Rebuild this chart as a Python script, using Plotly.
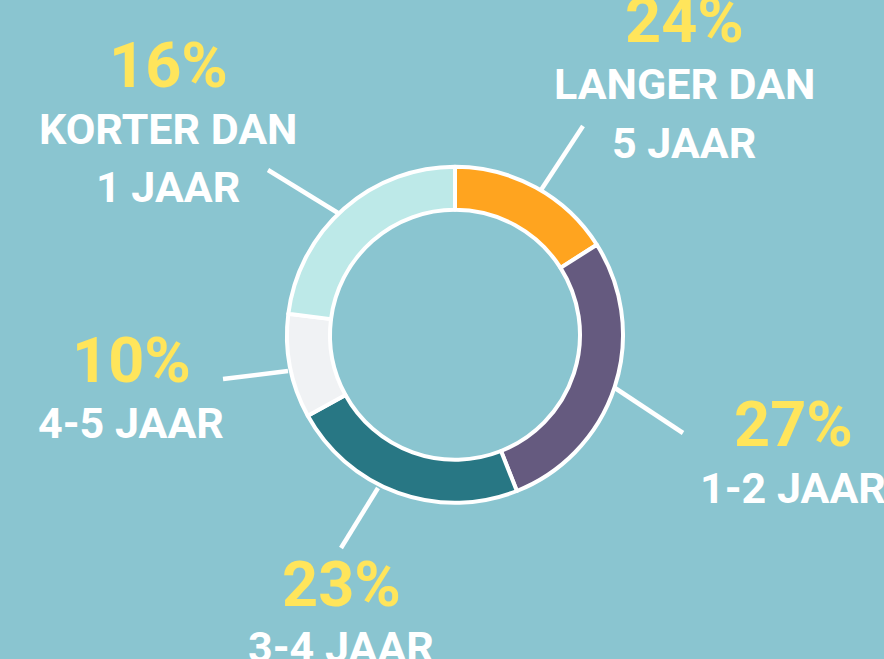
import plotly.graph_objects as go

# ---- data ----
categories = ["LANGER DAN 5 JAAR", "1-2 JAAR", "3-4 JAAR", "4-5 JAAR", "KORTER DAN 1 JAAR"]
slice_values = [16, 28, 23, 10, 23]          # slice sizes as drawn
label_percents = ["24%", "27%", "23%", "10%", "16%"]  # percentages as printed
label_lines = [["LANGER DAN", "5 JAAR"], ["1-2 JAAR"], ["3-4 JAAR"], ["4-5 JAAR"], ["KORTER DAN", "1 JAAR"]]

# ---- style ----
W, H = 884, 659
BG = "#8AC5D0"
colors = ["#FFA41F", "#655A7F", "#287784", "#F0F2F4", "#BDE9E8"]
YELLOW = "#FFE55B"
FONT = "Roboto"

def px(x):
    return x / W

def py(y):
    return 1 - y / H

cx, cy, r = 455, 334.8, 168

fig = go.Figure(go.Pie(
    labels=categories,
    values=slice_values,
    sort=False,
    direction="clockwise",
    rotation=0,
    hole=0.744,
    textinfo="none",
    hoverinfo="label+value",
    marker=dict(colors=colors, line=dict(color="white", width=4)),
    domain=dict(x=[px(cx - r), px(cx + r)], y=[py(cy + r), py(cy - r)]),
    showlegend=False,
))

# label layout: (center x, percent cap-middle y, [line cap-middle ys])
label_pos = [
    (684, 20.5, [84, 142.5]),
    (793, 424.5, [488]),
    (341, 584.5, [647]),
    (131, 360.5, [423]),
    (168, 65.5, [129, 187]),
]
# leader lines (outer end, donut end)
leaders = [
    ((583, 126), (541, 190)),
    ((683, 433), (615, 388)),
    ((341, 548), (378, 488)),
    ((223, 379), (288, 371)),
    ((268, 170), (338, 213)),
]

annotations = []
for pct, lines, (x, ypct, ylines) in zip(label_percents, label_lines, label_pos):
    annotations.append(dict(
        x=px(x), y=py(ypct), xref="paper", yref="paper", showarrow=False,
        text="<b>%s</b>" % pct, xanchor="center", yanchor="middle",
        font=dict(family=FONT, size=63, color=YELLOW),
    ))
    for t, yl in zip(lines, ylines):
        annotations.append(dict(
            x=px(x), y=py(yl), xref="paper", yref="paper", showarrow=False,
            text="<b>%s</b>" % t, xanchor="center", yanchor="middle",
            font=dict(family=FONT, size=43, color="white"),
        ))

shapes = []
for (x0, y0), (x1, y1) in leaders:
    shapes.append(dict(type="line", xref="paper", yref="paper",
                       x0=px(x0), y0=py(y0), x1=px(x1), y1=py(y1),
                       line=dict(color="white", width=4.5), layer="below"))

fig.update_layout(
    width=W, height=H,
    margin=dict(l=0, r=0, t=0, b=0),
    paper_bgcolor=BG, plot_bgcolor=BG,
    annotations=annotations, shapes=shapes,
)

fig.write_html(
    "out.html",
    config={"displayModeBar": False},
    post_script="document.body.style.margin='0';document.body.style.overflow='hidden';",
)
